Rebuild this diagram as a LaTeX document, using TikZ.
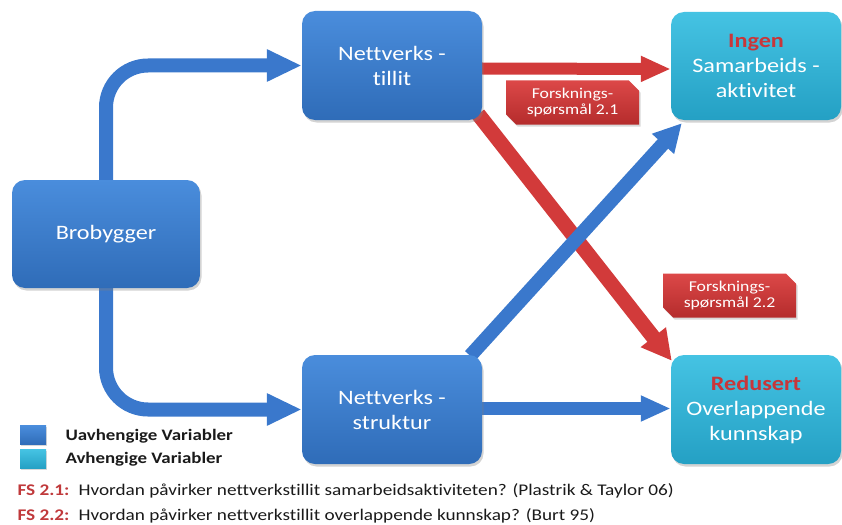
\documentclass[tikz,border=0pt]{standalone}
\usepackage{fontspec}
\setmainfont{Carlito}[FakeStretch=1.18, Ligatures=NoCommon]
\usetikzlibrary{arrows.meta,shapes.misc,shadows,calc,backgrounds}

\definecolor{boxblueT}{HTML}{4A8DDC}
\definecolor{boxblueB}{HTML}{2F6CB8}
\definecolor{tealT}{HTML}{45C3E3}
\definecolor{tealB}{HTML}{24A0C4}
\definecolor{arrblue}{HTML}{3A78CC}
\definecolor{arrred}{HTML}{D23A3A}
\definecolor{labT}{HTML}{DC4848}
\definecolor{labB}{HTML}{B52C2C}
\definecolor{hlred}{HTML}{C8363A}
\definecolor{fsred}{HTML}{C0393B}
\definecolor{legtext}{HTML}{1A1A1A}

\tikzset{
  box/.style={rounded corners=13pt, text=white, align=center, inner sep=0pt,
    font=\fontsize{20.5}{25}\selectfont,
    drop shadow={opacity=0.35, shadow xshift=1.5pt, shadow yshift=-2.5pt}},
  indep/.style={box, top color=boxblueT, bottom color=boxblueB},
  dep/.style={box, top color=tealT, bottom color=tealB},
  bigblue/.style={draw=arrblue, line width=14pt, rounded corners=42pt,
    -{Triangle[length=35pt,width=30pt]}},
  flatblue/.style={draw=arrblue, line width=13pt, -{Triangle[length=30pt,width=24pt]}},
  flatred/.style={draw=arrred, line width=12pt, -{Triangle[length=30pt,width=24pt]}},
  diagblue/.style={draw=arrblue, line width=14pt, -{Triangle[length=28pt,width=28pt]}},
  diagred/.style={draw=arrred, line width=15pt, -{Triangle[length=30pt,width=30pt]}},
  qlabel/.style={chamfered rectangle, chamfered rectangle corners={north east,south west},
    chamfered rectangle xsep=7pt, top color=labT, bottom color=labB, text=white,
    align=center, inner sep=0pt, minimum width=133pt, minimum height=44pt,
    font=\fontsize{15}{15.5}\selectfont,
    drop shadow={opacity=0.3, shadow xshift=1.5pt, shadow yshift=-2pt}},
  legsq/.style={inner sep=0pt, minimum width=26pt, minimum height=19pt,
    drop shadow={opacity=0.3, shadow xshift=1pt, shadow yshift=-1.5pt}},
  legtxt/.style={anchor=base west, text=legtext, font=\bfseries\fontsize{16}{18}\selectfont},
  fstxt/.style={anchor=base west, text=legtext, font=\fontsize{16.3}{18}\selectfont}
}

\begin{document}
\begin{tikzpicture}[x=1pt, y=-1pt]
\useasboundingbox (0,0) rectangle (842,524);

% variable boxes
\node[indep, minimum width=188pt, minimum height=108pt] (bro) at (106,234) {Brobygger};
\node[indep, minimum width=180pt, minimum height=109pt] (tillit) at (392,65.5) {Nettverks -\\tillit};
\node[indep, minimum width=180pt, minimum height=109pt] (struk) at (392,409.5) {Nettverks -\\struktur};
\node[dep, minimum width=170pt, minimum height=108pt] (ingen) at (756,66)
  {\textcolor{hlred}{\bfseries Ingen}\\Samarbeids -\\aktivitet};
\node[dep, minimum width=170pt, minimum height=109pt] (redu) at (756,409.5)
  {\textcolor{hlred}{\bfseries Redusert}\\Overlappende\\kunnskap};

% connectors, behind the boxes
\begin{pgfonlayer}{background}
  \draw[bigblue] (bro.north) |- (tillit.west);
  \draw[bigblue] (bro.south) |- (struk.west);
  \draw[flatred] ($(tillit.east)+(0,3)$) -- ($(ingen.west)+(0,3)$);
  \draw[flatblue] ($(struk.east)+(0,-1)$) -- ($(redu.west)+(0,-1)$);
  \draw[diagred] ($(tillit.south east)+(-4,-6)$) -- ($(redu.north west)+(1,6)$);
  \draw[diagblue] ($(struk.north east)+(-12,1)$) -- ($(ingen.south west)+(11,3)$);
\end{pgfonlayer}

% research question tags
\node[qlabel] (q1) at (572.5,102.5) {Forsknings-\\spørsmål 2.1};
\node[qlabel] (q2) at (729.5,295.5) {Forsknings-\\spørsmål 2.2};

% legend
\node[legsq, top color=boxblueT, bottom color=boxblueB] (lg1) at (33,435) {};
\node[legsq, top color=tealT, bottom color=tealB] (lg2) at (33,459) {};
\node[legtxt] (lt1) at (62,440) {Uavhengige Variabler};
\node[legtxt] (lt2) at (62,463) {Avhengige Variabler};

% research questions
\node[fstxt] (fs1) at (14,495) {\makebox[61pt][l]{\textcolor{fsred}{\bfseries FS 2.1:}}Hvordan påvirker nettverkstillit samarbeidsaktiviteten? (Plastrik \& Taylor 06)};
\node[fstxt] (fs2) at (14,520) {\makebox[61pt][l]{\textcolor{fsred}{\bfseries FS 2.2:}}Hvordan påvirker nettverkstillit overlappende kunnskap? (Burt 95)};
\end{tikzpicture}
\end{document}
